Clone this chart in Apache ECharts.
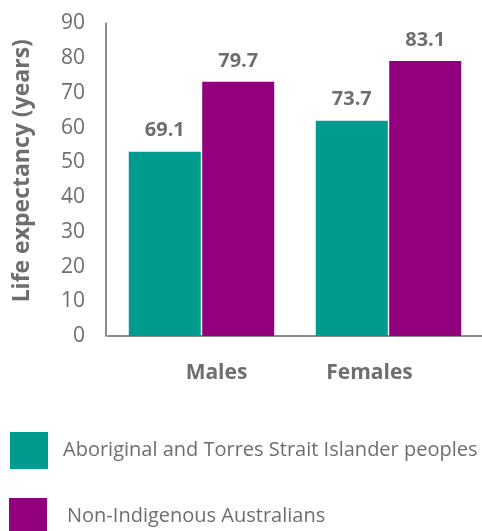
<!DOCTYPE html>
<html>
<head>
<meta charset="utf-8">
<script src="https://cdn.jsdelivr.net/npm/echarts@6/dist/echarts.min.js"></script>
<style>
html,body{margin:0;padding:0;background:#fff;}
#chart{width:482px;height:531px;}
</style>
</head>
<body>
<div id="chart"></div>
<script>
// Categories
var categories = ['Males', 'Females'];
// Series names
var seriesNames = ['Aboriginal and Torres Strait Islander peoples', 'Non-Indigenous Australians'];
// Bar heights as drawn in the picture (on the 0–90 axis)
var indigenousBars = [53.1, 62.0];
var nonIndigenousBars = [73.2, 79.2];
// Value labels printed above the bars
var indigenousLabels = ['69.1', '73.7'];
var nonIndigenousLabels = ['79.7', '83.1'];
// Y tick range
var yMin = 0, yMax = 90, yInterval = 10;

var TEXT = '#6d6e71';
var FONT = '"Open Sans"';

function lbl(arr) {
  return {
    show: true, position: 'top', distance: 11,
    fontFamily: FONT, fontWeight: 'bold', fontSize: 20, color: TEXT,
    formatter: function (p) { return arr[p.dataIndex]; }
  };
}

function legendFor(name, left, top, pad) {
  return {
    orient: 'vertical', left: left, top: top,
    itemWidth: 38, itemHeight: 37, padding: 0,
    icon: 'rect',
    textStyle: { fontFamily: FONT, fontSize: 20, color: TEXT, padding: [0, 0, 0, pad] },
    data: [name]
  };
}

var chart = echarts.init(document.getElementById('chart'));
chart.setOption({
  animation: false,
  grid: { left: 108, right: 0, top: 23.5, bottom: 195 },
  legend: [
    legendFor(seriesNames[0], 10, 432, 10),
    legendFor(seriesNames[1], 9, 498, 15)
  ],
  xAxis: {
    type: 'category',
    data: [
      { value: categories[0], textStyle: { padding: [0, 0, 0, 30] } },
      { value: categories[1], textStyle: { padding: [0, 38, 0, 0] } }
    ],
    axisLine: { lineStyle: { color: '#8c8c8c', width: 2 } },
    axisTick: { show: false },
    axisLabel: { fontFamily: FONT, fontWeight: 'bold', fontSize: 21, color: TEXT, margin: 27 }
  },
  yAxis: {
    type: 'value', min: yMin, max: yMax, interval: yInterval,
    offset: 2,
    name: 'Life expectancy (years)',
    nameLocation: 'middle', nameGap: 72, nameRotate: 90,
    nameTextStyle: { fontFamily: FONT, fontWeight: 'bold', fontSize: 23, color: TEXT, padding: [0, 0, 0, 18] },
    axisLine: { show: true, lineStyle: { color: '#8c8c8c', width: 2 } },
    axisTick: { show: false },
    splitLine: { show: false },
    axisLabel: { fontFamily: FONT, fontSize: 21, color: TEXT, margin: 21 }
  },
  series: [
    {
      name: seriesNames[0], type: 'bar', data: indigenousBars,
      barWidth: 72, barGap: '2%',
      itemStyle: { color: '#009b8f' },
      label: lbl(indigenousLabels)
    },
    {
      name: seriesNames[1], type: 'bar', data: nonIndigenousBars,
      barWidth: 72,
      itemStyle: { color: '#92007e' },
      label: lbl(nonIndigenousLabels)
    }
  ]
});
</script>
</body>
</html>
